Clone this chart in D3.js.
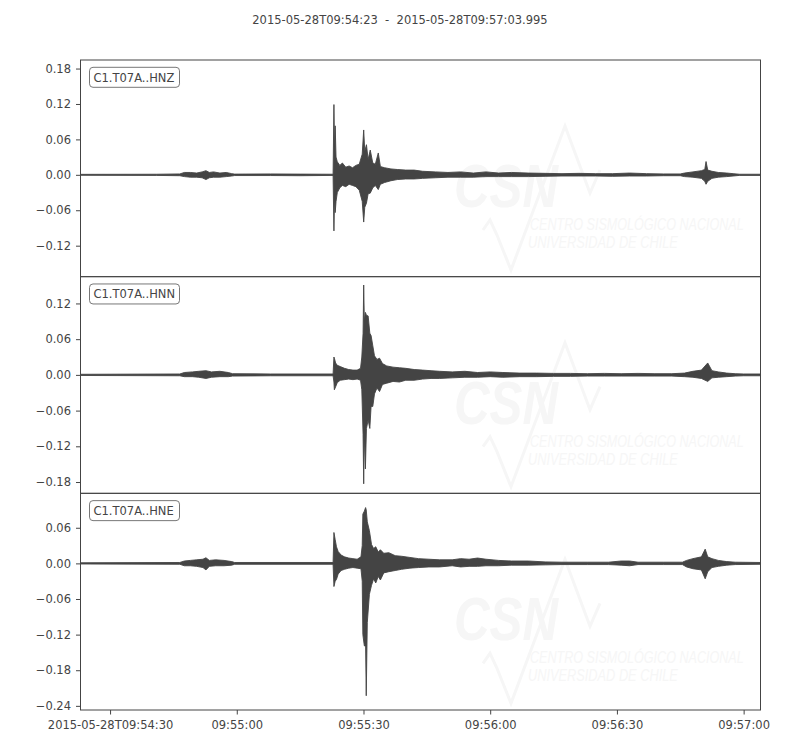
<!DOCTYPE html>
<html><head><meta charset="utf-8">
<script src="https://cdn.jsdelivr.net/npm/d3@7"></script>
<style>
html,body{margin:0;padding:0;background:#fff;}
svg{display:block;font-family:"DejaVu Sans",sans-serif;}
</style></head>
<body><svg id="chart" width="800" height="750"></svg>
<script>
// ---------- data ----------
const titleText = "2015-05-28T09:54:23  -  2015-05-28T09:57:03.995";
const startTime = "2015-05-28T09:54:23.000Z";
const endTime   = "2015-05-28T09:57:03.995Z";
const channels = ["C1.T07A..HNZ", "C1.T07A..HNN", "C1.T07A..HNE"];
const watermarkLines = ["CSN", "CENTRO SISMOLÓGICO NACIONAL", "UNIVERSIDAD DE CHILE"];
const xTickTimes  = ["2015-05-28T09:54:30Z","2015-05-28T09:55:00Z","2015-05-28T09:55:30Z","2015-05-28T09:56:00Z","2015-05-28T09:56:30Z","2015-05-28T09:57:00Z"];
const xTickLabels = ["2015-05-28T09:54:30","09:55:00","09:55:30","09:56:00","09:56:30","09:57:00"];
const yDomainHNZ = [-0.1725, 0.1945];
const yDomainHNN = [-0.199, 0.165];
const yDomainHNE = [-0.247, 0.118];
const yTicksHNZ = [0.18, 0.12, 0.06, 0.00, -0.06, -0.12];
const yTicksHNN = [0.12, 0.06, 0.00, -0.06, -0.12, -0.18];
const yTicksHNE = [0.06, 0.00, -0.06, -0.12, -0.18, -0.24];

// amplitude envelope: [seconds after start, upper, lower]
const envHNZ = [
[0,.0008,-.0008],[18,.001,-.001],[23.5,.0015,-.0015],[24.6,.004,-.003],[26,.004,-.004],[27.5,.003,-.004],
[28.8,.005,-.005],[29.7,.007,-.008],[30.5,.004,-.005],[31.5,.005,-.004],[33,.003,-.004],[34.5,.004,-.003],
[35.8,.002,-.002],[36.5,.0012,-.0012],[45,.0015,-.0012],[52,.0012,-.0015],[59.8,.001,-.001],
[60.0,.119,-.095],[60.15,.04,-.035],[60.3,.083,-.064],[60.5,.03,-.045],[60.8,.022,-.03],[61.4,.016,-.022],
[62,.02,-.018],[62.8,.013,-.02],[63.6,.015,-.016],[64.4,.012,-.018],[65.2,.016,-.02],[66,.018,-.026],
[66.7,.035,-.045],[67.05,.076,-.08],[67.3,.04,-.055],[67.7,.051,-.048],[68.1,.026,-.032],[68.6,.042,-.031],
[69.2,.02,-.022],[69.8,.018,-.018],[70.5,.037,-.025],[71.0,.014,-.016],[72,.012,-.013],[73.5,.01,-.01],
[75,.009,-.008],[77,.008,-.007],[79,.008,-.007],[81,.006,-.006],[84,.005,-.005],[87,.004,-.004],[90,.005,-.004],
[93,.003,-.004],[96,.005,-.003],[99,.003,-.003],[102,.004,-.003],[106,.003,-.003],[110,.0025,-.0025],
[114,.002,-.002],[118,.0025,-.002],[122,.002,-.002],[126,.002,-.0025],[130,.003,-.002],[134,.002,-.002],
[138,.0015,-.0015],[142,.0015,-.0015],[143,.003,-.003],[145,.005,-.004],[147,.007,-.006],[147.8,.009,-.011],
[148.1,.0225,-.016],[148.5,.008,-.011],[149.5,.006,-.006],[151,.004,-.004],[153,.003,-.003],[154.5,.002,-.002],
[156,.001,-.001],[161,.001,-.001]
];
const envHNN = [
[0,.001,-.001],[23.5,.0015,-.0015],[24.6,.004,-.003],[26.5,.005,-.003],[28,.006,-.004],[29.7,.007,-.006],
[31,.005,-.004],[33,.006,-.003],[35,.004,-.003],[36,.002,-.002],[45,.0015,-.0015],[59.8,.0015,-.0015],
[60.0,.030,-.012],[60.1,.028,-.025],[60.4,.020,-.020],[60.8,.016,-.013],[61.5,.014,-.009],[62.5,.011,-.008],
[63.5,.009,-.007],[64.5,.008,-.008],[65.5,.008,-.007],[66.3,.011,-.009],[66.6,.03,-.025],[66.9,.07,-.10],
[67.05,.151,-.183],[67.2,.09,-.10],[67.45,.105,-.158],[67.7,.10,-.09],[68.1,.099,-.076],[68.5,.07,-.09],
[68.8,.066,-.053],[69.2,.049,-.053],[69.6,.032,-.032],[70.2,.026,-.022],[70.8,.028,-.028],[71.5,.019,-.016],
[72.5,.015,-.014],[74,.013,-.011],[75.5,.012,-.012],[77,.011,-.009],[79,.009,-.009],[81,.008,-.007],
[83,.007,-.006],[85,.006,-.006],[88,.005,-.005],[91,.006,-.004],[94,.004,-.004],[97,.005,-.003],
[100,.004,-.004],[104,.003,-.003],[108,.003,-.003],[112,.0025,-.0025],[116,.0025,-.0025],[120,.002,-.002],
[124,.0025,-.002],[128,.002,-.002],[132,.0025,-.002],[136,.002,-.002],[140,.002,-.002],[143,.003,-.003],
[145,.006,-.004],[147,.008,-.006],[148.5,.020,-.011],[149.5,.007,-.005],[151,.005,-.004],[153,.003,-.003],
[155,.002,-.002],[157,.0015,-.0015],[161,.0015,-.0015]
];
const envHNE = [
[0,.001,-.001],[23.5,.0015,-.0015],[24.6,.004,-.004],[26,.005,-.004],[27.5,.006,-.005],[29,.007,-.007],
[29.7,.0095,-.011],[30.5,.005,-.005],[32,.006,-.004],[34,.005,-.004],[35.8,.003,-.003],[36.5,.0015,-.0015],
[59.8,.0015,-.0015],[60.0,.052,-.039],[60.3,.040,-.030],[60.6,.028,-.027],[61,.020,-.018],[61.7,.014,-.012],
[62.5,.011,-.010],[63.5,.009,-.008],[64.5,.008,-.007],[65.5,.007,-.008],[66.4,.011,-.009],[66.7,.03,-.03],
[66.85,.083,-.12],[67.2,.088,-.139],[67.5,.094,-.139],[67.65,.09,-.223],[67.9,.07,-.10],[68.4,.055,-.052],
[68.9,.032,-.037],[69.4,.025,-.026],[69.9,.028,-.033],[70.5,.019,-.022],[71,.023,-.028],[71.8,.017,-.016],
[73,.018,-.014],[74.5,.013,-.012],[76,.012,-.010],[78,.010,-.008],[80,.008,-.007],[82.5,.007,-.006],
[85,.006,-.006],[88,.006,-.004],[90,.008,-.006],[92,.007,-.005],[94,.009,-.005],[96,.007,-.004],
[99,.005,-.004],[102,.004,-.003],[106,.004,-.003],[110,.0025,-.0025],[114,.002,-.002],[120,.002,-.002],
[125,.002,-.002],[128,.004,-.003],[130,.004,-.004],[132,.002,-.002],[138,.002,-.002],[142.5,.002,-.002],
[143.5,.005,-.006],[145,.008,-.009],[147,.011,-.011],[147.9,.024,-.026],[148.5,.011,-.014],[149.5,.008,-.007],
[151,.005,-.005],[153,.003,-.003],[155,.002,-.002],[161,.0015,-.0015]
];

// ---------- drawing ----------
const svg = d3.select("#chart");
const left = 80.5, right = 760.5, top0 = 60, bottom = 710;
const panelH = (bottom - top0) / 3;
const t0 = new Date(startTime);
const x = d3.scaleUtc().domain([t0, new Date(endTime)]).range([left, right]);
const toDate = s => new Date(t0.getTime() + s * 1000);

const panels = [
  {name: channels[0], env: envHNZ, dom: yDomainHNZ, ticks: yTicksHNZ},
  {name: channels[1], env: envHNN, dom: yDomainHNN, ticks: yTicksHNN},
  {name: channels[2], env: envHNE, dom: yDomainHNE, ticks: yTicksHNE}
];
const ink = "#444444";
const wmColor = "#f6f6f6";
const fmt = v => (v < 0 ? "\u2212" : "") + Math.abs(v).toFixed(2);

svg.append("text").attr("x", 400).attr("y", 24).attr("text-anchor", "middle")
  .attr("font-size", 11.5).attr("fill", ink).attr("xml:space","preserve").text(titleText);

// condensed text fitted to a target width via horizontal scaling
function fitText(parent, str, x0, y0, size, width, bold) {
  const t = parent.append("text").attr("font-size", size).attr("font-style", "italic")
    .attr("font-weight", bold ? "bold" : "normal")
    .attr("font-family", "Liberation Sans, Arial, sans-serif").text(str);
  const w = t.node().getComputedTextLength();
  t.attr("transform", `translate(${x0},${y0}) scale(${width / w},1)`);
  return t;
}

panels.forEach((p, i) => {
  const pt = top0 + i * panelH, pb = pt + panelH;
  const y = d3.scaleLinear().domain(p.dom).range([pb, pt]);
  const g = svg.append("g");

  // faint watermark
  const wm = g.append("g").attr("fill", wmColor).attr("stroke", "none");
  fitText(wm, watermarkLines[0], 454, pt + 147, 62, 104, true);
  fitText(wm, watermarkLines[1], 530, pt + 170, 16, 214, false);
  fitText(wm, watermarkLines[2], 528, pt + 188, 16, 150, false);
  g.append("path").attr("fill","none").attr("stroke",wmColor).attr("stroke-width",3)
    .attr("d", `M483,${pt+170} L490,${pt+160} L497,${pt+175} L511,${pt+210} L565,${pt+66} L590,${pt+133} L600,${pt+110}`);

  // waveform envelope
  const area = d3.area().x(d => x(toDate(d[0]))).y0(d => y(d[2])).y1(d => y(d[1]));
  g.append("path").datum(p.env).attr("d", area).attr("fill", ink).attr("stroke", ink)
    .attr("stroke-width", 0.9).attr("stroke-linejoin","round");

  // frame
  g.append("rect").attr("x", left).attr("y", pt).attr("width", right - left).attr("height", panelH)
    .attr("fill", "none").attr("stroke", ink).attr("stroke-width", 1);

  // y axis
  const ya = d3.axisLeft(y).tickValues(p.ticks).tickFormat(fmt).tickSize(4.5).tickPadding(5);
  const yg = g.append("g").attr("transform", `translate(${left},0)`).call(ya);
  yg.select(".domain").remove();
  yg.selectAll("line").attr("stroke", ink);
  yg.selectAll("text").attr("fill", ink).attr("font-size", 11.5).attr("font-family", "DejaVu Sans");

  // channel label
  g.append("rect").attr("x", 89.5).attr("y", pt + 7.3).attr("width", 90).attr("height", 20)
    .attr("rx", 3.5).attr("fill", "#fff").attr("stroke", "#777").attr("stroke-width", 1);
  g.append("text").attr("x", 93.5).attr("y", pt + 21.5).attr("font-size", 11.5).attr("fill", ink).text(p.name);

  if (i === 2) {
    const xa = d3.axisBottom(x).tickValues(xTickTimes.map(s => new Date(s)))
      .tickFormat((d, k) => xTickLabels[k]).tickSize(4.5).tickPadding(6);
    const xg = g.append("g").attr("transform", `translate(0,${pb})`).call(xa);
    xg.select(".domain").remove();
    xg.selectAll("line").attr("stroke", ink);
    xg.selectAll("text").attr("fill", ink).attr("font-size", 11.5).attr("font-family", "DejaVu Sans");
  }
});
</script></body></html>
